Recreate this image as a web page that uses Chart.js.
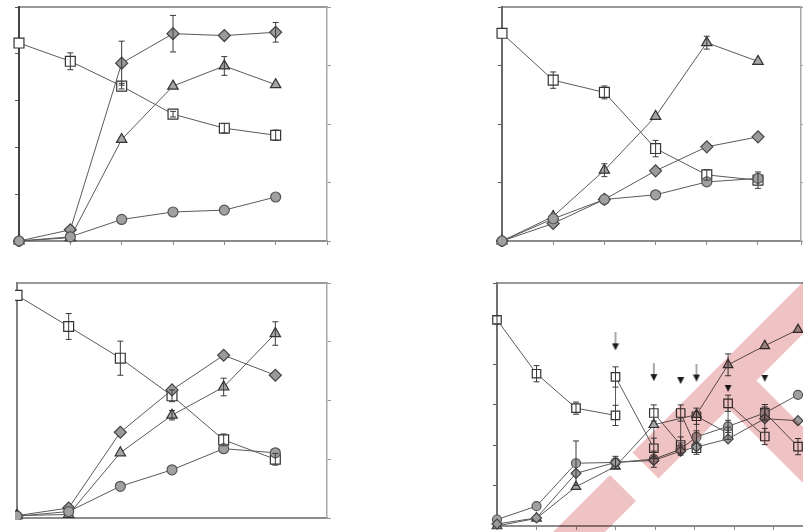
<!DOCTYPE html>
<html>
<head>
<meta charset="utf-8">
<script src="https://cdn.jsdelivr.net/npm/chart.js@4.4.1/dist/chart.umd.min.js"></script>
<style>
  html, body { margin: 0; padding: 0; background: #fff; overflow: hidden; }
  body { width: 803px; height: 532px; position: relative; }
  canvas { position: absolute; }
  #mark { position: absolute; left: 0; top: 0; mix-blend-mode: multiply; pointer-events: none; }
</style>
</head>
<body>
<canvas id="c1"></canvas>
<canvas id="c2"></canvas>
<canvas id="c3"></canvas>
<canvas id="c4"></canvas>
<svg id="mark" width="803" height="532">
  <path fill="#efc3c3" d="M610,475 L636,501 L597,540 L545,540 Z M632.5,452.5 L658.5,478.5 L820,317 L820,265 Z M728.5,408.5 L756.5,380.5 L820,444 L820,500 Z"/>
</svg>
<script>
// ---- top left panel ----
const xA = [0, 1, 2, 3, 4, 5];
const aSquare = [4.23, 3.84, 3.31, 2.71, 2.41, 2.26];
const aSquareErr = [0, 0.18, 0.06, 0.06, 0.1, 0.11];
const aDiamond = [0, 0.24, 3.8, 4.43, 4.39, 4.46];
const aDiamondErr = [0, 0, 0.47, 0.39, 0, 0.21];
const aTriangle = [0, 0.07, 2.17, 3.31, 3.74, 3.34];
const aTriangleErr = [0, 0, 0, 0, 0.2, 0];
const aCircle = [0, 0.09, 0.46, 0.62, 0.66, 0.94];

// ---- top right panel ----
const xB = [0, 1, 2, 3, 4, 5];
const bSquare = [3.55, 2.75, 2.54, 1.58, 1.13, 1.04];
const bSquareErr = [0, 0.14, 0.11, 0.14, 0.09, 0.14];
const bTriangle = [0, 0.42, 1.21, 2.13, 3.39, 3.07];
const bTriangleErr = [0, 0, 0.11, 0, 0.11, 0];
const bDiamond = [0, 0.3, 0.71, 1.2, 1.61, 1.78];
const bCircle = [0, 0.38, 0.71, 0.79, 1.01, 1.07];

// ---- bottom left panel ----
const xC = [0, 1, 2, 3, 4, 5];
const cSquare = [3.79, 3.26, 2.72, 2.08, 1.33, 1.0];
const cSquareErr = [0, 0.22, 0.29, 0.1, 0.1, 0.1];
const cDiamond = [0.04, 0.17, 1.46, 2.18, 2.77, 2.43];
const cTriangle = [0.04, 0.06, 1.11, 1.75, 2.23, 3.14];
const cTriangleErr = [0, 0, 0, 0.08, 0.15, 0.2];
const cCircle = [0.03, 0.11, 0.54, 0.82, 1.18, 1.11];

// ---- bottom right panel (additions marked by arrows) ----
const dSquareX = [0, 1, 2, 3, 3, 3.97, 3.97, 4.65, 4.65, 5.05, 5.05, 5.85, 5.85, 6.78, 6.78, 7.62];
const dSquare = [5.09, 3.76, 2.91, 2.73, 3.68, 1.92, 2.79, 2.0, 2.79, 1.92, 2.71, 2.29, 3.03, 2.21, 2.8, 1.96];
const dSquareErr = [0.1, 0.2, 0.15, 0.25, 0.25, 0.25, 0.2, 0.2, 0.2, 0.15, 0.2, 0.15, 0.2, 0.2, 0.2, 0.2];
const dTriangleX = [0, 1, 2, 3, 3.97, 5.05, 5.85, 6.78, 7.62];
const dTriangle = [0, 0.19, 0.97, 1.47, 2.5, 2.75, 3.98, 4.45, 4.85];
const dTriangleErr = [0, 0, 0, 0, 0, 0, 0.27, 0, 0];
const dRoundX = [0, 1, 2, 3, 3.97, 4.65, 5.05, 5.85, 6.78, 7.62];
const dCircle = [0.16, 0.49, 1.55, 1.57, 1.65, 1.9, 2.2, 2.46, 2.79, 3.24];
const dCircleErr = [0, 0, 0.55, 0.15, 0.2, 0.15, 0.15, 0.15, 0.15, 0];
const dDiamond = [0.05, 0.2, 1.3, 1.57, 1.62, 1.85, 1.95, 2.15, 2.65, 2.6];
const arrowX = [3, 3.97, 5.05];
const arrowY = [4.56, 3.8, 3.79];
const headX = [4.65, 5.85, 6.78];
const headY = [3.59, 3.4, 3.65];

// marker styles
const line = '#5a5a5a';
const open = { pointStyle: 'rect', pointRadius: 7, pointBackgroundColor: '#fff', pointBorderColor: '#333' };
const diamond = { pointStyle: 'rectRot', pointRadius: 6, pointBackgroundColor: '#9a9a9a', pointBorderColor: '#444' };
const tri = { pointStyle: 'triangle', pointRadius: 6, pointBackgroundColor: '#a5a5a5', pointBorderColor: '#333' };
const round = { pointStyle: 'circle', pointRadius: 5, pointBackgroundColor: '#a0a0a0', pointBorderColor: '#555' };

function series(xs, ys, style, errs) {
  return Object.assign({
    data: xs.map((x, i) => ({ x: x, y: ys[i] })),
    errs: errs,
    showLine: true,
    borderColor: line,
    borderWidth: 1,
    pointBorderWidth: 1.2,
    clip: false
  }, style);
}

function makeArrow(shaft) {
  const c = document.createElement('canvas');
  c.width = 8; c.height = shaft ? 18 : 7;
  const g = c.getContext('2d');
  if (shaft) {
    g.fillStyle = '#555';
    g.fillRect(3.5, 0, 1, 12);
  }
  g.fillStyle = '#1a1a1a';
  g.beginPath();
  g.moveTo(0.5, c.height - 7);
  g.lineTo(7.5, c.height - 7);
  g.lineTo(4, c.height);
  g.closePath();
  g.fill();
  return c;
}

function marks(xs, ys, img) {
  return {
    data: xs.map((x, i) => ({ x: x, y: ys[i] })),
    showLine: false,
    pointStyle: img,
    pointRadius: 5,
    clip: false
  };
}

const errorBars = {
  id: 'errorBars',
  afterDatasetsDraw(chart) {
    const ctx = chart.ctx;
    const ys = chart.scales.y;
    chart.data.datasets.forEach((ds, i) => {
      if (!ds.errs) return;
      chart.getDatasetMeta(i).data.forEach((pt, j) => {
        const e = ds.errs[j];
        if (!e) return;
        const v = ds.data[j].y;
        const top = ys.getPixelForValue(v + e);
        const bot = ys.getPixelForValue(v - e);
        ctx.save();
        ctx.strokeStyle = '#3a3a3a';
        ctx.lineWidth = 1;
        ctx.beginPath();
        ctx.moveTo(pt.x, top); ctx.lineTo(pt.x, bot);
        ctx.moveTo(pt.x - 3, top); ctx.lineTo(pt.x + 3, top);
        ctx.moveTo(pt.x - 3, bot); ctx.lineTo(pt.x + 3, bot);
        ctx.stroke();
        ctx.restore();
      });
    });
  }
};

// place a canvas so that its plot area lands on the given box
function makePanel(id, box, ax, datasets) {
  const tl = 4;
  const pad = 2;
  const el = document.getElementById(id);
  const lw = ax.lt ? tl : 0, rw = ax.rt ? tl : 0, bh = ax.bt ? tl : 0;
  const left = box.l - lw - pad;
  const top = box.t - pad;
  el.style.left = left + 'px';
  el.style.top = top + 'px';
  el.width = box.r + rw + pad - left;
  el.height = box.b + bh + pad - top;

  return new Chart(el, {
    type: 'scatter',
    data: { datasets: datasets },
    options: {
      responsive: false,
      animation: false,
      devicePixelRatio: 1,
      layout: { autoPadding: false, padding: pad },
      plugins: { legend: { display: false }, tooltip: { enabled: false } },
      scales: {
        x: {
          type: 'linear', min: 0, max: ax.xMax,
          ticks: { display: false, stepSize: 1 },
          grid: { drawOnChartArea: false, drawTicks: ax.bt, tickLength: tl, color: '#888' },
          border: { color: '#8c8c8c', width: 2 },
          afterFit: s => { s.height = bh; }
        },
        xTop: {
          type: 'linear', position: 'top', min: 0, max: ax.xMax,
          ticks: { display: false },
          grid: { display: false, drawTicks: false },
          border: { color: '#9a9a9a', width: 2 },
          afterFit: s => { s.height = 0; }
        },
        y: {
          min: 0, max: ax.yL,
          ticks: { display: false, stepSize: 1 },
          grid: { drawOnChartArea: false, drawTicks: ax.lt, tickLength: tl, color: '#555' },
          border: { color: ax.leftColor, width: 2 },
          afterFit: s => { s.width = lw; }
        },
        y2: {
          position: 'right', min: 0, max: ax.yR,
          ticks: { display: false, stepSize: 1 },
          grid: { drawOnChartArea: false, drawTicks: ax.rt, tickLength: tl, color: '#999' },
          border: { color: '#a8a8a8', width: 1.5 },
          afterFit: s => { s.width = rw; }
        }
      }
    },
    plugins: [errorBars]
  });
}

makePanel('c1', { l: 19, r: 327, t: 7, b: 241 },
  { xMax: 6, yL: 5, yR: 4, lt: true, rt: true, bt: true, leftColor: '#444' }, [
    series(xA, aCircle, round),
    series(xA, aTriangle, tri, aTriangleErr),
    series(xA, aDiamond, diamond, aDiamondErr),
    series(xA, aSquare, open, aSquareErr)
  ]);

makePanel('c2', { l: 502, r: 801, t: 7, b: 241 },
  { xMax: 5.84, yL: 4, yR: 4, lt: true, rt: true, bt: true, leftColor: '#6a6a6a' }, [
    series(xB, bCircle, round),
    series(xB, bDiamond, diamond),
    series(xB, bTriangle, tri, bTriangleErr),
    series(xB, bSquare, open, bSquareErr)
  ]);

makePanel('c3', { l: 17, r: 327, t: 283, b: 518 },
  { xMax: 6, yL: 4, yR: 4, lt: false, rt: true, bt: false, leftColor: '#808080' }, [
    series(xC, cCircle, round),
    series(xC, cTriangle, tri, cTriangleErr),
    series(xC, cDiamond, diamond),
    series(xC, cSquare, open, cSquareErr)
  ]);

makePanel('c4', { l: 497, r: 813, t: 283, b: 526 },
  { xMax: 8, yL: 6, yR: 6, lt: true, rt: false, bt: true, leftColor: '#707070' }, [
    series(dRoundX, dDiamond, Object.assign({}, diamond, { pointRadius: 5 })),
    series(dRoundX, dCircle, Object.assign({}, round, { pointRadius: 4.5 }), dCircleErr),
    series(dTriangleX, dTriangle, Object.assign({}, tri, { pointRadius: 5.5 }), dTriangleErr),
    series(dSquareX, dSquare, Object.assign({}, open, { pointRadius: 6 }), dSquareErr),
    marks(arrowX, arrowY, makeArrow(true)),
    marks(headX, headY, makeArrow(false))
  ]);
</script>
</body>
</html>
